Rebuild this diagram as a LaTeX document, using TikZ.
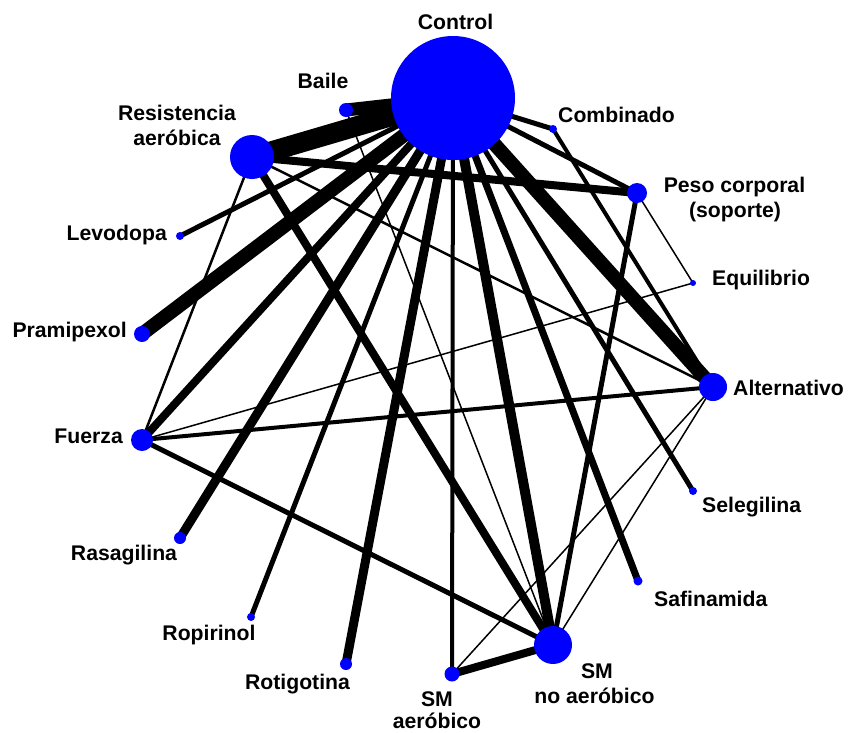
\documentclass[tikz,border=0pt]{standalone}
\usepackage{fontspec}
\setmainfont{Liberation Sans}
\pgfdeclarelayer{background}
\pgfsetlayers{background,main}
\tikzset{
  dot/.style={circle, fill={rgb,255:red,0;green,0;blue,255}, draw=none, inner sep=0pt, minimum size=#1},
  lbl/.style={font=\fontsize{21.2}{24}\selectfont\bfseries, inner sep=0pt, text=black},
  edge/.style={draw=black, line width=#1}
}
\begin{document}
\begin{tikzpicture}[x=1pt, y=-1pt]
\useasboundingbox (0,0) rectangle (849,732);
% nodes
\node[dot=124pt] (ctl) at (453,98) {};
\node[dot=14pt] (bai) at (346,110) {};
\node[dot=8pt] (com) at (553,129) {};
\node[dot=44pt] (res) at (252,157) {};
\node[dot=20pt] (pes) at (637,193) {};
\node[dot=8pt] (lev) at (180,236) {};
\node[dot=6pt] (equ) at (693,283) {};
\node[dot=16pt] (pra) at (142,334) {};
\node[dot=28pt] (alt) at (713,387) {};
\node[dot=22pt] (fue) at (142,440) {};
\node[dot=8pt] (sel) at (693,491) {};
\node[dot=12pt] (ras) at (180,538) {};
\node[dot=9pt] (saf) at (638,581) {};
\node[dot=8pt] (rop) at (251,617) {};
\node[dot=12pt] (rot) at (346,664) {};
\node[dot=15pt] (sma) at (452,674) {};
\node[dot=38pt] (smn) at (553,645) {};
% edges
\begin{pgfonlayer}{background}
\fill[white] (0,0) rectangle (849,732);
\draw[edge=20pt] (ctl.center) -- (res.center);
\draw[edge=13pt] (ctl.center) -- (bai.center);
\draw[edge=5pt] (ctl.center) -- (com.center);
\draw[edge=5pt] (ctl.center) -- (pes.center);
\draw[edge=14pt] (ctl.center) -- (alt.center);
\draw[edge=5pt] (ctl.center) -- (lev.center);
\draw[edge=14pt] (ctl.center) -- (pra.center);
\draw[edge=8pt] (ctl.center) -- (fue.center);
\draw[edge=9pt] (ctl.center) -- (ras.center);
\draw[edge=5pt] (ctl.center) -- (rop.center);
\draw[edge=9pt] (ctl.center) -- (rot.center);
\draw[edge=4pt] (ctl.center) -- (sma.center);
\draw[edge=10pt] (ctl.center) -- (smn.center);
\draw[edge=7pt] (ctl.center) -- (saf.center);
\draw[edge=5pt] (ctl.center) -- (sel.center);
\draw[edge=8pt] (res.center) -- (pes.center);
\draw[edge=2.5pt] (res.center) -- (fue.center);
\draw[edge=2.5pt] (res.center) -- (alt.center);
\draw[edge=8pt] (res.center) -- (smn.center);
\draw[edge=1.5pt] (bai.center) -- (smn.center);
\draw[edge=4pt] (com.center) -- (alt.center);
\draw[edge=1.5pt] (pes.center) -- (equ.center);
\draw[edge=5pt] (pes.center) -- (smn.center);
\draw[edge=1.5pt] (equ.center) -- (fue.center);
\draw[edge=4pt] (alt.center) -- (fue.center);
\draw[edge=1.5pt] (alt.center) -- (smn.center);
\draw[edge=1.5pt] (alt.center) -- (sma.center);
\draw[edge=5pt] (fue.center) -- (smn.center);
\draw[edge=8pt] (sma.center) -- (smn.center);
\end{pgfonlayer}
% labels
\node[lbl, anchor=base] (tctl) at (455.5,29) {Control};
\node[lbl, anchor=base] (tbai) at (323,88) {Baile};
\node[lbl, anchor=base west] (tcom) at (558,122) {Combinado};
\node[lbl, anchor=base] (tres1) at (177,120) {Resistencia};
\node[lbl, anchor=base] (tres2) at (177,145) {aeróbica};
\node[lbl, anchor=base east] (tlev) at (167,240) {Levodopa};
\node[lbl, anchor=base] (tpes1) at (734.5,192) {Peso corporal};
\node[lbl, anchor=base] (tpes2) at (735,217) {(soporte)};
\node[lbl, anchor=base west] (tequ) at (712,285) {Equilibrio};
\node[lbl, anchor=base east] (tpra) at (127,337) {Pramipexol};
\node[lbl, anchor=base west] (talt) at (733,395) {Alternativo};
\node[lbl, anchor=base east] (tfue) at (123,443) {Fuerza};
\node[lbl, anchor=base west] (tsel) at (702,512) {Selegilina};
\node[lbl, anchor=base] (tras) at (124,560) {Rasagilina};
\node[lbl, anchor=base west] (tsaf) at (654,606) {Safinamida};
\node[lbl, anchor=base] (trop) at (209,640) {Ropirinol};
\node[lbl, anchor=base] (trot) at (297.5,689) {Rotigotina};
\node[lbl, anchor=base] (tsma1) at (437,706) {SM};
\node[lbl, anchor=base] (tsma2) at (437,728) {aeróbico};
\node[lbl, anchor=base] (tsmn1) at (597,678) {SM};
\node[lbl, anchor=base] (tsmn2) at (594.5,703) {no aeróbico};
\end{tikzpicture}
\end{document}
